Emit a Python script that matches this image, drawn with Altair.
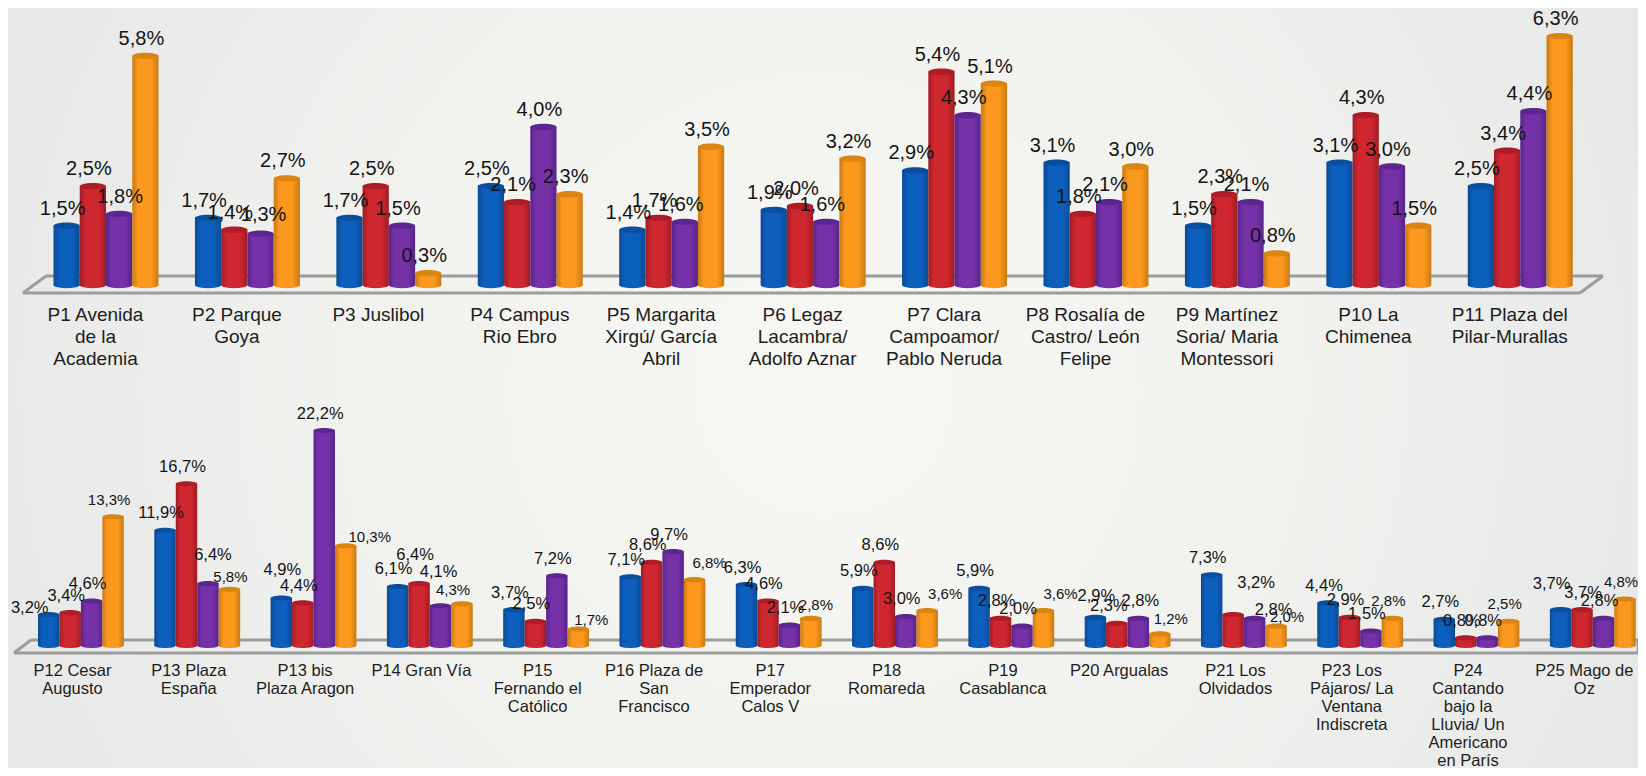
import altair as alt
import pandas as pd

cats_top = ["P1 Avenida|de la|Academia", "P2 Parque|Goya", "P3 Juslibol", "P4 Campus|Rio Ebro",
            "P5 Margarita|Xirgú/ García|Abril", "P6 Legaz|Lacambra/|Adolfo Aznar",
            "P7 Clara|Campoamor/|Pablo Neruda", "P8 Rosalía de|Castro/ León|Felipe",
            "P9 Martínez|Soria/ Maria|Montessori", "P10 La|Chimenea", "P11 Plaza del|Pilar-Murallas"]
blue_top = [1.5, 1.7, 1.7, 2.5, 1.4, 1.9, 2.9, 3.1, 1.5, 3.1, 2.5]
red_top = [2.5, 1.4, 2.5, 2.1, 1.7, 2.0, 5.4, 1.8, 2.3, 4.3, 3.4]
purple_top = [1.8, 1.3, 1.5, 4.0, 1.6, 1.6, 4.3, 2.1, 2.1, 3.0, 4.4]
orange_top = [5.8, 2.7, 0.3, 2.3, 3.5, 3.2, 5.1, 3.0, 0.8, 1.5, 6.3]

cats_bot = ["P12 Cesar|Augusto", "P13 Plaza|España", "P13 bis|Plaza Aragon", "P14 Gran Vía",
            "P15|Fernando el|Católico", "P16 Plaza de|San|Francisco", "P17|Emperador|Calos V",
            "P18|Romareda", "P19|Casablanca", "P20 Argualas", "P21 Los|Olvidados",
            "P23 Los|Pájaros/ La|Ventana|Indiscreta", "P24|Cantando|bajo la|Lluvia/ Un|Americano|en París",
            "P25 Mago de|Oz"]
blue_bot = [3.2, 11.9, 4.9, 6.1, 3.7, 7.1, 6.3, 5.9, 5.9, 2.9, 7.3, 4.4, 2.7, 3.7]
red_bot = [3.4, 16.7, 4.4, 6.4, 2.5, 8.6, 4.6, 8.6, 2.8, 2.3, 3.2, 2.9, 0.8, 3.7]
purple_bot = [4.6, 6.4, 22.2, 4.1, 7.2, 9.7, 2.1, 3.0, 2.0, 2.8, 2.8, 1.5, 0.8, 2.8]
orange_bot = [13.3, 5.8, 10.3, 4.3, 1.7, 6.8, 2.8, 3.6, 3.6, 1.2, 2.0, 2.8, 2.5, 4.8]

series = ["blue", "red", "purple", "orange"]
palette = {
    "blue": ("#0a4a94", "#0d5fbe", "#0a4f9e"),
    "red": ("#a01c24", "#cf2730", "#b01c26"),
    "purple": ("#56248a", "#7731a8", "#5c2690"),
    "orange": ("#c97a12", "#fb981d", "#d98510"),
}

# extra label displacement (px), as the hand-placed labels of the original
nudge_top = {(0, "purple"): (5, 0), (1, "purple"): (7, -2)}
nudge_bot = {
    (0, "blue"): (-15, 10), (1, "purple"): (9, -12), (1, "orange"): (5, 5), (2, "blue"): (5, -11),
    (2, "orange"): (28, 8), (3, "red"): (0, -12), (3, "purple"): (2, -17), (3, "orange"): (-5, 3),
    (4, "orange"): (17, 8), (5, "orange"): (19, 0), (6, "orange"): (9, 4), (7, "orange"): (22, 0),
    (8, "orange"): (21, 0), (9, "blue"): (5, -4), (9, "red"): (-4, 0), (9, "purple"): (6, 0),
    (9, "orange"): (15, 2), (10, "red"): (27, -15), (10, "purple"): (23, 9), (10, "orange"): (15, 8),
    (13, "blue"): (-5, -9), (13, "red"): (5, 0),
}


def frame(cats, *columns):
    rows = []
    for s, col in zip(series, columns):
        for i, (c, v) in enumerate(zip(cats, col)):
            rows.append({"cat": c, "idx": i, "series": s, "value": v,
                         "label": f"{v:.1f}%".replace(".", ","), "zero": 0})
    return pd.DataFrame(rows)


def body_gradient(name):
    edge, mid, _ = palette[name]
    return alt.LinearGradient(gradient="linear", x1=0, x2=1, y1=0, y2=0,
                              stops=[alt.GradientStop(color=edge, offset=0),
                                     alt.GradientStop(color=mid, offset=0.22),
                                     alt.GradientStop(color=mid, offset=0.72),
                                     alt.GradientStop(color=edge, offset=1)])


ELLIPSE = "M-1,0A1,0.24 0 1,1 1,0A1,0.24 0 1,1 -1,0Z"
FLOOR = "#9b9c9c"
FONT = "Liberation Sans"
WIDTH = 1630
HEIGHT = 760


def row(df, cats, yrange, ymax, xrange, offs, barw, axis_pad, axis_font, line_h, label_off,
        floor, value_font, orange_font, dy, orient, axis_offset, nudges):
    x = alt.X("cat:N", sort=cats, title=None,
              scale=alt.Scale(domain=cats, range=xrange, paddingInner=0, paddingOuter=0),
              axis=alt.Axis(orient=orient, domain=False, ticks=False, labelAngle=0, labelOverlap=False,
                            labelLimit=0, labelBound=False, labelFlush=False, grid=False,
                            labelExpr="split(datum.label, '|')", labelFont=FONT,
                            labelFontSize=axis_font, labelColor="#1d1d1d", labelPadding=axis_pad,
                            labelLineHeight=line_h, labelOffset=label_off, labelBaseline="top",
                            offset=axis_offset, zindex=1))
    xo = alt.XOffset("series:N", sort=series,
                     scale=alt.Scale(domain=series, range=offs, paddingInner=0, paddingOuter=0))
    yscale = alt.Scale(domain=[0, ymax], range=yrange, nice=False)
    y = alt.Y("value:Q", title=None, axis=None, scale=yscale)
    layers = []
    (fl, fr, bl, br, fy, by) = floor
    base = alt.Chart(pd.DataFrame({"a": [0]}))
    for (x1, x2, y1, y2) in [(fl, fr, fy, fy), (bl, br, by, by), (fl, bl, fy, by), (fr, br, fy, by)]:
        layers.append(base.mark_rule(color=FLOOR, strokeWidth=3).encode(
            x=alt.value(x1), x2=alt.value(x2), y=alt.value(y1), y2=alt.value(y2)))
    size = barw ** 2
    for s in series:
        d = df[df.series == s]
        ch = alt.Chart(d)
        layers.append(ch.mark_point(shape=ELLIPSE, size=size, filled=True, opacity=1,
                                    color=body_gradient(s)).encode(
            x=x, xOffset=xo, y=alt.Y("zero:Q", title=None, axis=None, scale=yscale)))
        layers.append(ch.mark_bar(color=body_gradient(s)).encode(x=x, xOffset=xo, y=y))
        layers.append(ch.mark_point(shape=ELLIPSE, size=size, filled=True, opacity=1,
                                    color=palette[s][2]).encode(x=x, xOffset=xo, y=y))
    for s in series:
        d = df[df.series == s]
        fs = orange_font if s == "orange" else value_font
        moved = [i for (i, n) in nudges if n == s]
        plain = d[~d.idx.isin(moved)]
        layers.append(alt.Chart(plain).mark_text(font=FONT, fontSize=fs, color="#141414", dx=-4, dy=dy).encode(
            x=x, xOffset=xo, y=y, text="label:N"))
        for i in moved:
            ndx, ndy = nudges[(i, s)]
            layers.append(alt.Chart(d[d.idx == i]).mark_text(
                font=FONT, fontSize=fs, color="#141414", dx=-4 + ndx, dy=dy + ndy).encode(
                x=x, xOffset=xo, y=y, text="label:N"))
    return alt.layer(*layers)


bg = alt.Chart(pd.DataFrame({"a": [0]})).mark_rect(
    color=alt.RadialGradient(gradient="radial", x1=0.5, y1=0.5, r1=0, x2=0.5, y2=0.5, r2=0.72,
                             stops=[alt.GradientStop(color="#f7f7f3", offset=0),
                                    alt.GradientStop(color="#f1f2ee", offset=0.4),
                                    alt.GradientStop(color="#dfe1e3", offset=1)])
).encode(x=alt.value(0), x2=alt.value(WIDTH), y=alt.value(0), y2=alt.value(HEIGHT))

top = row(frame(cats_top, blue_top, red_top, purple_top, orange_top), cats_top, [277, 0], 277 / 39.5,
          [27.3, 1583], [18.2, 123.2], 26.25, 20, 19, 22, -10.5,
          (15, 1572, 38, 1595, 285, 268), 20, 20, -17, "bottom", 277 - HEIGHT, nudge_top)
bot = row(frame(cats_bot, blue_bot, red_bot, purple_bot, orange_bot), cats_bot, [637.5, 392], 245.5 / 9.68,
          [14.85, 1643], [15.15, 101], 21.4, -17, 16.5, 18, -8.5,
          (6, 1630, 23, 1630, 645, 632), 16.5, 15, -17, "top", -637.5, nudge_bot)

chart = alt.layer(bg, top, bot).resolve_scale(x="independent", y="independent", xOffset="independent").properties(
    width=WIDTH, height=HEIGHT, padding=0, autosize=alt.AutoSizeParams(type="none")
).configure_view(stroke=None)
chart.save("out.html", embed_options={"renderer": "svg", "actions": False})
